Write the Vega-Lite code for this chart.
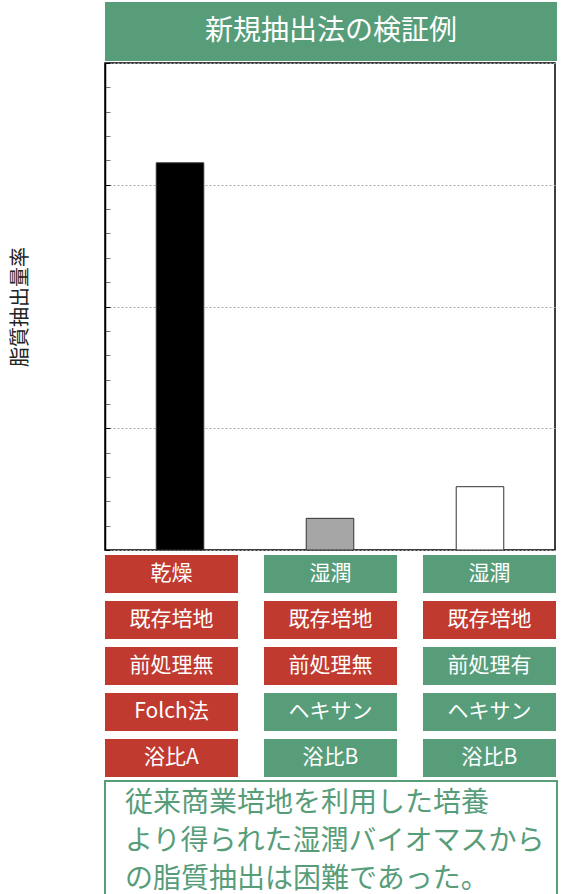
{
  "$schema": "https://vega.github.io/schema/vega-lite/v6.json",
  "padding": {"left": 9, "top": 2, "right": 0, "bottom": 0},
  "spacing": 0,
  "config": {
    "font": "Noto Sans CJK JP",
    "view": {"stroke": null},
    "concat": {"spacing": 0}
  },
  "vconcat": [
    {
      "width": 452,
      "height": 59,
      "view": {"fill": "#579d7a", "stroke": null},
      "data": {"values": [{"title": "新規抽出法の検証例"}]},
      "mark": {"type": "text", "color": "white", "fontSize": 28, "baseline": "middle", "align": "center"},
      "encoding": {"text": {"field": "title"}}
    },
    {
      "width": 450,
      "height": 487,
      "view": {"stroke": "black", "strokeWidth": 1.5},
      "data": {
        "values": [
          {"sample": "乾燥・Folch法", "yield": 3.18},
          {"sample": "湿潤・ヘキサン", "yield": 0.26},
          {"sample": "湿潤・前処理・ヘキサン", "yield": 0.52}
        ]
      },
      "mark": {"type": "bar", "stroke": "#333", "strokeWidth": 1},
      "encoding": {
        "x": {
          "field": "sample",
          "type": "nominal",
          "sort": null,
          "scale": {"paddingInner": 0.683, "paddingOuter": 0.3417},
          "axis": null
        },
        "y": {
          "field": "yield",
          "type": "quantitative",
          "scale": {"domain": [0, 4], "nice": false},
          "axis": {
            "title": "脂質抽出量率",
            "titleFontSize": 20,
            "titleFontWeight": "normal",
            "titleColor": "#222",
            "titlePadding": 74,
            "labels": false,
            "values": [0, 0.2, 0.4, 0.6, 0.8, 1, 1.2, 1.4, 1.6, 1.8, 2, 2.2, 2.4, 2.6, 2.8, 3, 3.2, 3.4, 3.6, 3.8, 4],
            "tickSize": -5,
            "tickColor": {"condition": {"test": "datum.value % 1 === 0", "value": "black"}, "value": "#777"},
            "grid": true,
            "gridDash": [2, 2],
            "gridColor": "#aaa",
            "gridOpacity": {"condition": {"test": "datum.value % 1 === 0", "value": 1}, "value": 0},
            "domainColor": "black",
            "domainWidth": 1.5
          }
        },
        "fill": {
          "field": "sample",
          "type": "nominal",
          "sort": null,
          "scale": {"range": ["black", "#a6a6a6", "white"]},
          "legend": null
        }
      }
    },
    {
      "width": 451,
      "height": 228,
      "data": {
        "values": [
          {"col": 1, "row": 1, "label": "乾燥", "eval": "bad"},
          {"col": 2, "row": 1, "label": "湿潤", "eval": "good"},
          {"col": 3, "row": 1, "label": "湿潤", "eval": "good"},
          {"col": 1, "row": 2, "label": "既存培地", "eval": "bad"},
          {"col": 2, "row": 2, "label": "既存培地", "eval": "bad"},
          {"col": 3, "row": 2, "label": "既存培地", "eval": "bad"},
          {"col": 1, "row": 3, "label": "前処理無", "eval": "bad"},
          {"col": 2, "row": 3, "label": "前処理無", "eval": "bad"},
          {"col": 3, "row": 3, "label": "前処理有", "eval": "good"},
          {"col": 1, "row": 4, "label": "Folch法", "eval": "bad"},
          {"col": 2, "row": 4, "label": "ヘキサン", "eval": "good"},
          {"col": 3, "row": 4, "label": "ヘキサン", "eval": "good"},
          {"col": 1, "row": 5, "label": "浴比A", "eval": "bad"},
          {"col": 2, "row": 5, "label": "浴比B", "eval": "good"},
          {"col": 3, "row": 5, "label": "浴比B", "eval": "good"}
        ]
      },
      "encoding": {
        "x": {"field": "col", "type": "ordinal", "axis": null, "scale": {"paddingInner": 0.1635, "paddingOuter": 0}},
        "y": {"field": "row", "type": "ordinal", "axis": null, "scale": {"paddingInner": 0.174, "paddingOuter": 0.065}}
      },
      "layer": [
        {
          "mark": {"type": "rect"},
          "encoding": {
            "color": {
              "field": "eval",
              "type": "nominal",
              "scale": {"domain": ["bad", "good"], "range": ["#c03a30", "#579d7a"]},
              "legend": null
            }
          }
        },
        {
          "mark": {"type": "text", "color": "white", "fontSize": 21, "baseline": "middle"},
          "encoding": {"text": {"field": "label"}}
        }
      ]
    },
    {
      "width": 452,
      "height": 122,
      "view": {"stroke": "#579d7a", "strokeWidth": 2},
      "data": {
        "values": [
          {"line": 1, "text": "従来商業培地を利用した培養"},
          {"line": 2, "text": "より得られた湿潤バイオマスから"},
          {"line": 3, "text": "の脂質抽出は困難であった。"}
        ]
      },
      "mark": {"type": "text", "align": "left", "baseline": "middle", "x": 0, "dx": 20, "fontSize": 28, "color": "#579d7a"},
      "encoding": {
        "y": {"field": "line", "type": "ordinal", "axis": null, "scale": {"type": "point", "padding": 0.62}},
        "text": {"field": "text"}
      }
    }
  ]
}
